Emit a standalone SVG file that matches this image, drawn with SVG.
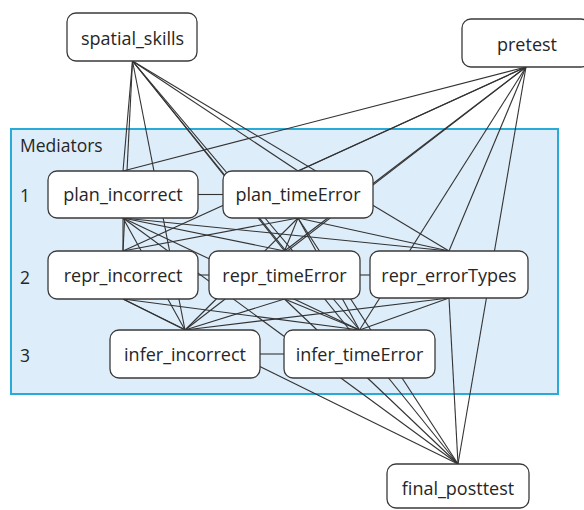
<svg xmlns="http://www.w3.org/2000/svg" width="584" height="510" viewBox="0 0 584 510">
<style>
.bg{fill:#ffffff}
.med{fill:#deedfa;stroke:#2aaad6;stroke-width:2}
.node rect{fill:#ffffff;stroke:#3a3a3a;stroke-width:1.3}
.node text,.lbl{font-family:"Open Sans","Noto Sans",sans-serif;fill:#262626}
.node text{text-anchor:middle;font-size:18px}
.lbl{font-size:17.5px}
#edges line{stroke:#333333;stroke-width:1.1;fill:none}
</style>
<rect class="bg" x="0" y="0" width="584" height="510"/>
<g id="mediators">
<rect class="med" x="11" y="129" width="547" height="265"/>
<text class="lbl" x="20" y="152">Mediators</text>
<text class="lbl" x="20" y="202">1</text>
<text class="lbl" x="20" y="284">2</text>
<text class="lbl" x="20" y="362">3</text>
</g>
<g id="edges">
<!-- spatial_skills -->
<line x1="132.5" y1="61" x2="123" y2="171"/>
<line x1="132.5" y1="61" x2="298" y2="171"/>
<line x1="132.5" y1="61" x2="123" y2="251"/>
<line x1="132.5" y1="61" x2="284.5" y2="251"/>
<line x1="132.5" y1="61" x2="449" y2="251"/>
<line x1="132.5" y1="61" x2="185" y2="330"/>
<line x1="132.5" y1="61" x2="359.5" y2="330"/>
<line x1="132.5" y1="61" x2="458" y2="464"/>
<!-- pretest -->
<line x1="526" y1="67" x2="123" y2="171"/>
<line x1="526" y1="67" x2="298" y2="171"/>
<line x1="526" y1="67" x2="123" y2="251"/>
<line x1="526" y1="67" x2="284.5" y2="251"/>
<line x1="526" y1="67" x2="449" y2="251"/>
<line x1="526" y1="67" x2="185" y2="330"/>
<line x1="526" y1="67" x2="359.5" y2="330"/>
<line x1="526" y1="67" x2="458" y2="464"/>
<!-- plan_incorrect -->
<line x1="123" y1="218" x2="123" y2="251"/>
<line x1="123" y1="218" x2="284.5" y2="251"/>
<line x1="123" y1="218" x2="449" y2="251"/>
<line x1="123" y1="218" x2="185" y2="330"/>
<line x1="123" y1="218" x2="359.5" y2="330"/>
<line x1="123" y1="218" x2="458" y2="464"/>
<!-- plan_timeError -->
<line x1="298" y1="218" x2="123" y2="251"/>
<line x1="298" y1="218" x2="284.5" y2="251"/>
<line x1="298" y1="218" x2="449" y2="251"/>
<line x1="298" y1="218" x2="185" y2="330"/>
<line x1="298" y1="218" x2="359.5" y2="330"/>
<line x1="298" y1="218" x2="458" y2="464"/>
<!-- level 2 -->
<line x1="123" y1="299" x2="185" y2="330"/>
<line x1="123" y1="299" x2="359.5" y2="330"/>
<line x1="123" y1="299" x2="458" y2="464"/>
<line x1="284.5" y1="299" x2="185" y2="330"/>
<line x1="284.5" y1="299" x2="359.5" y2="330"/>
<line x1="284.5" y1="299" x2="458" y2="464"/>
<line x1="449" y1="298" x2="185" y2="330"/>
<line x1="449" y1="298" x2="359.5" y2="330"/>
<line x1="449" y1="298" x2="458" y2="464"/>
<!-- within level -->
<line x1="198" y1="194.5" x2="223" y2="194.5"/>
<line x1="198" y1="275" x2="209" y2="275"/>
<line x1="360" y1="275" x2="370" y2="275"/>
<line x1="260" y1="354" x2="284" y2="354"/>
</g>
<g id="spatial_skills" class="node"><rect x="67" y="13" width="130" height="48" rx="9"/><text x="132.5" y="44.5">spatial_skills</text></g>
<g id="pretest" class="node"><rect x="462" y="19" width="128" height="48" rx="9"/><text x="527" y="50.5">pretest</text></g>
<g id="plan_incorrect" class="node"><rect x="48" y="171" width="150" height="47" rx="9"/><text x="123" y="201">plan_incorrect</text></g>
<g id="plan_timeError" class="node"><rect x="223" y="171" width="150" height="47" rx="9"/><text x="298" y="201">plan_timeError</text></g>
<g id="repr_incorrect" class="node"><rect x="48" y="251" width="150" height="48" rx="9"/><text x="123" y="282">repr_incorrect</text></g>
<g id="repr_timeError" class="node"><rect x="209" y="251" width="151" height="48" rx="9"/><text x="284.5" y="282">repr_timeError</text></g>
<g id="repr_errorTypes" class="node"><rect x="370" y="251" width="158" height="47" rx="9"/><text x="449" y="281.5">repr_errorTypes</text></g>
<g id="infer_incorrect" class="node"><rect x="110" y="330" width="150" height="48" rx="9"/><text x="185" y="361">infer_incorrect</text></g>
<g id="infer_timeError" class="node"><rect x="284" y="330" width="151" height="48" rx="9"/><text x="359.5" y="361">infer_timeError</text></g>
<g id="final_posttest" class="node"><rect x="387" y="464" width="142" height="44" rx="9"/><text x="458" y="495">final_posttest</text></g>
</svg>
